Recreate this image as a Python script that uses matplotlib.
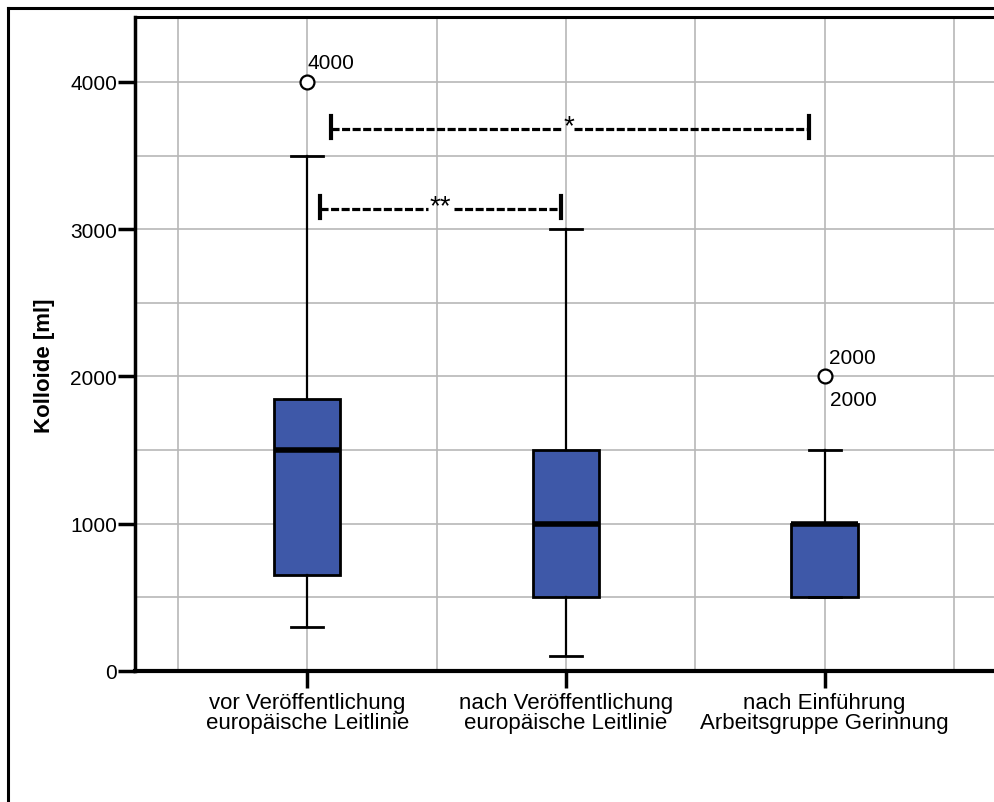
import matplotlib
matplotlib.use("Agg")
import matplotlib.pyplot as plt
from matplotlib.lines import Line2D
from matplotlib.ticker import MultipleLocator

plt.rcParams["font.family"] = ["Liberation Sans", "DejaVu Sans"]
plt.rcParams["lines.scale_dashes"] = False

# Daten
groups = ["vor Veröffentlichung\neuropäische Leitlinie",
          "nach Veröffentlichung\neuropäische Leitlinie",
          "nach Einführung\nArbeitsgruppe Gerinnung"]
q1 = [650, 500, 500]
med = [1500, 1000, 1000]
q3 = [1850, 1500, 1000]
whislo = [300, 100, 500]
whishi = [3500, 3000, 1500]
fliers = [[4000], [], [2000]]
flier_labels = [["4000"], [], ["2000", "2000"]]

# Signifikanz-Klammern: (von, bis, Höhe, Text)
sig_from = [1.09, 1.05]
sig_to = [2.94, 1.98]
sig_y = [3680, 3137]
sig_mid = [2.01, 1.515]
sig_text = ["*", "**"]

BLUE = "#3e58a8"
GRID = "#b8b8b8"

fig = plt.figure(figsize=(9.95, 8.03), dpi=100)
ax = fig.add_axes([135 / 995, 1 - 672 / 803, 1 - 135 / 995 + 0.002, (672 - 18) / 803])

stats = []
for i in range(len(groups)):
    stats.append(dict(q1=q1[i], med=med[i], q3=q3[i], whislo=whislo[i],
                      whishi=whishi[i], fliers=fliers[i], label=groups[i]))

ax.bxp(stats, positions=[1, 2, 3], widths=0.256, patch_artist=True,
       showfliers=True,
       boxprops=dict(facecolor=BLUE, edgecolor="black", linewidth=2),
       medianprops=dict(color="black", linewidth=4, solid_capstyle="butt"),
       whiskerprops=dict(color="black", linewidth=1.6),
       capprops=dict(color="black", linewidth=2),
       capwidths=0.124,
       flierprops=dict(marker="o", markerfacecolor="white", markeredgecolor="black",
                       markersize=10, markeredgewidth=1.6),
       zorder=3)

# Ausreißer-Beschriftungen
for i, labs in enumerate(flier_labels):
    if not labs:
        continue
    v = fliers[i][0]
    dx = 0 if i == 0 else 3
    ax.annotate(labs[0], (i + 1, v), xytext=(dx, 7), textcoords="offset points",
                ha="left", va="bottom", fontsize=15)
    if len(labs) > 1:
        ax.annotate(labs[1], (i + 1, v), xytext=(4, -10), textcoords="offset points",
                    ha="left", va="top", fontsize=15)

# Signifikanz-Klammern
for a, b, y, mid, t in zip(sig_from, sig_to, sig_y, sig_mid, sig_text):
    gap = 0.05 if t == "**" else 0.022
    for x0, x1 in [(a, mid - gap), (mid + gap, b)]:
        ax.plot([x0, x1], [y, y], color="black", lw=2.3, dashes=(5.8, 1.8), zorder=4)
    for xe in (a, b):
        ax.plot([xe, xe], [y - 60, y + 90], color="black", lw=3, zorder=4)
    ax.text(mid, y - 70, t, ha="center", va="bottom", fontsize=20, zorder=4)

ax.set_xlim(1 - 172 / 258, 3 + 172 / 258)
ax.set_ylim(0, 4441)

ax.set_xticks([1, 2, 3])
ax.set_xticklabels(groups, fontsize=16, linespacing=0.95)
ax.xaxis.set_minor_locator(MultipleLocator(0.5))
ax.yaxis.set_major_locator(MultipleLocator(1000))
ax.yaxis.set_minor_locator(MultipleLocator(500))
ax.tick_params(axis="both", which="major", direction="out", length=12, width=2.5,
               labelsize=15, pad=1)
ax.tick_params(axis="x", which="major", pad=3, labelsize=16)
ax.tick_params(axis="both", which="minor", length=0)

ax.grid(True, which="both", color=GRID, linewidth=1.2, zorder=0)
ax.set_axisbelow(True)

ax.set_ylabel("Kolloide [ml]", fontsize=16, fontweight="bold")
ax.yaxis.set_label_coords(-0.093, 0.468)

ax.spines["right"].set_visible(False)
ax.spines["left"].set_linewidth(2.5)
ax.spines["bottom"].set_linewidth(3)
ax.spines["top"].set_linewidth(2.2)

# äußerer Rahmen
fx = 8 / 995
fy = 1 - 9 / 803
fig.add_artist(Line2D([fx, fx], [0, fy], color="black", lw=2.2, transform=fig.transFigure))
fig.add_artist(Line2D([fx, 1], [fy, fy], color="black", lw=2.2, transform=fig.transFigure))

fig.savefig("out.png", dpi=100)
